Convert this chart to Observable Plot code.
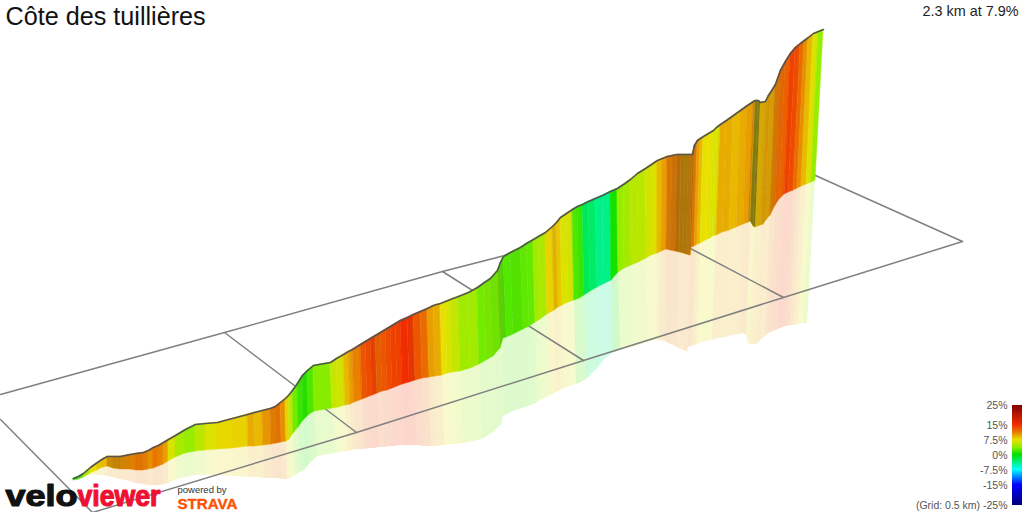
<!DOCTYPE html>
<html><head><meta charset="utf-8">
<script src="https://cdn.jsdelivr.net/npm/d3@7"></script>
<script src="https://cdn.jsdelivr.net/npm/@observablehq/plot@0.6"></script>
<style>html,body{margin:0;padding:0;background:#fff}svg{display:block}</style>
</head><body><div id="chart"></div>
<script>
const titleText = "Côte des tuillières";
const summaryText = "2.3 km at 7.9%";
const legendTicks = [25, 15, 7.5, 0, -7.5, -15, -25];
const legendLabels = ["25%", "15%", "7.5%", "0%", "-7.5%", "-15%", "(Grid: 0.5 km) -25%"];
const gradeStops = [-25, -15, -7.5, 0, 3.75, 7.5, 9.5, 11, 15, 25];
const gradeColors = ["#00007f", "#0000ff", "#00ffff", "#00e000", "#90ee00", "#e8e000", "#e8ac00", "#e88000", "#f02c00", "#7f0000"];

// ribbon ridge (top), ribbon foot (base) and the bottom of its reflection, read station by station
const topX = [73,78,83,90,97,100,103,107,113,120, 130,136,143,148,153,158,163,168,175,180, 185,195,205,217,232,247,254,262,270,275, 280,285,288,292,297,302,307,313,330,336, 343,348,352,360,365,370,375,380,385,390, 395,400,407,413,420,427,433,440,445,450, 458,468,477,484,490,497,500,503,510,520, 526,533,538,545,552,556,560,566,572,577, 582,588,595,602,610,617,623,630,637,645, 651,657,662,667,672,677,681,685,688,692, 694,697,700,703,708,713,716,720,726,733, 740,747,753,755,758,760,765,768,770,775, 780,785,790,795,800,804,808,813,818,823];
const topY = [478,476,473,467,462,460,458,456,456,456, 454,453,452,450,447,445,442,439,435,432, 429,424,423,422,418,414,412,410,408,406, 402,398,395,390,383,375,370,365,362,358, 354,351,349,344,341,338,335,332,329,326, 323,320,317,314,311,308,305,303,301,299, 296,292,287,282,278,270,262,256,252,247, 243,239,236,232,226,222,217,213,209,206, 204,201,198,195,191,188,184,179,173,168, 164,160,158,156,155,154,154,154,154,154, 145,140,138,136,133,130,127,124,120,115, 110,105,101,100,100,102,101,95,92,84, 70,61,53,47,43,40,37,33,31,29];
const baseX = [73,78,83,90,97,100,103,107,113,120, 130,136,143,148,153,158,163,168,175,180, 185,195,205,217,232,248,255,263,271,276, 281,286,289,293,298,303,308,314,332,338, 345,350,354,362,367,372,377,382,387,392, 397,402,409,415,422,429,435,442,447,452, 460,470,479,486,493,500,503,506,513,523, 529,535,540,547,554,558,562,568,574,579, 584,590,597,603,611,618,624,631,638,646, 651,657,661,666,670,675,679,683,686,690, 691,694,697,700,705,710,712,716,722,729, 736,743,748,750,753,755,760,763,765,770, 775,779,784,788,793,797,801,806,811,815];
const baseY = [480,479,477,473,470,468,467,466,468,469, 469,470,470,469,468,466,464,461,457,455, 453,451,450,449,448,446,446,445,444,443, 442,441,439,433,427,420,415,411,408,407, 405,404,402,399,397,395,393,391,390,388, 386,384,382,380,378,377,376,375,373,372, 371,368,364,360,356,348,338,337,334,329, 326,322,319,314,310,307,305,302,300,298, 295,291,287,284,280,272,268,265,262,258, 255,253,251,249,250,251,252,253,254,255, 247,246,244,243,240,238,236,235,232,230, 227,224,222,221,226,227,225,224,221,215, 205,199,194,192,190,188,186,184,182,180];
const reflX = [73,78,83,90,97,100,103,107,113,120, 130,136,143,148,153,158,163,168,175,180, 185,195,205,217,233,249,256,264,272,277, 282,287,290,295,300,304,310,317,335,341, 347,352,356,364,369,374,379,384,389,394, 399,404,411,417,424,431,437,444,449,455, 463,473,482,487,493,502,503,507,515,525, 531,537,542,549,556,560,564,570,576,581, 586,592,599,604,612,620,626,632,639,647, 651,657,660,665,668,673,677,681,684,687, 688,691,694,697,701,706,708,712,718,725, 732,739,743,746,748,750,755,758,760,765, 768,773,778,782,786,790,794,798,803,807];
const reflY = [480,479,478,475,475,475,475,476,477,479, 481,483,484,485,485,485,484,483,480,478, 477,475,475,475,476,477,477,478,478,478, 479,479,478,475,472,470,463,456,453,452, 451,450,449,449,448,448,447,447,446,446, 445,445,445,445,446,446,446,445,444,444, 443,441,439,436,432,423,416,414,410,407, 405,402,399,396,392,390,388,386,384,382, 379,373,366,359,353,350,348,347,345,342, 341,340,340,341,343,345,347,349,350,352, 347,346,345,344,342,341,340,340,338,337, 335,334,333,335,343,344,344,343,340,336, 333,331,329,327,326,325,325,324,323,323];
const gradePct = [1,2,5,7.5,8.5,8.8,9,10,10,10.5, 10.8,11.5,11,10.5,11.5,11,10,7,5,4.6, 4,5.5,7,7.8,8,9.5,9,10.3,11,11.5, 10.5,8,6,3,1.5,1,2,3.5,6,6.5, 9,10,11,13,13.5,14,12.5,13,13.5,14, 14,15,14.5,13,12,10,9.5,7.5,7,6, 4.5,4.5,3,3.2,3,3,2.2,2.2,2.2,2.5, 2.6,4.5,4.8,8,9,8.5,7,6.5,2,1.5, -2.5,-3,-4,-4,0.5,4,4.5,5.5,5.5,6.5, 7,9,10,11,11,11,10,10,10.5,10, 11.5,10,9,7.5,7.5,6.8,7,9.5,9.5,9, 9.5,10,10.5,8,8,9,9.5,10,9.5,11, 12,12.5,14,13.5,12,10.5,9,7,4,4];
const shading = [0,0,0,0,0,0,0,.15,.2,.1, .05,.05,.03,0,0,0,0,0,0,0, 0,0,0,0,0,0,0,0,.05,.05, 0,0,0,0,0,.03,0,0,0,0, 0,0,0,0,0,.04,.04,0,0,0, 0,0,.04,0,0,0,0,0,0,0, 0,0,0,.03,.04,.15,.1,0,.03,0, 0,0,0,0,.05,0,0,0,0,0, 0,0,0,0,0,0,0,0,0,0, 0,0,0,.1,.15,.25,.3,.3,.25,.3, .05,0,0,0,0,0,0,0,0,0, 0,0,.15,.5,.5,.1,.1,.1,.1,.1, .05,0,0,0,0,0,0,0,0,0];

// floor grid: outline and 0.5 km cross lines
const gridId = [0,0,0,0, 1,1, 2,2,2,2,2, 3,3, 4,4, 5,5, 6,6];
const gridX = [0,224,442,815, 815,962, 962,783,583,356,92, 0,92, 224,356, 442,583, 650,783];
const gridY = [394,332,271,175, 175,241, 241,297,360,432,512, 419,512, 332,432, 271,360, 227,297];

// strips: each joins one station to the next
const strips = d3.range(topX.length - 1).flatMap(i => [i, i + 1].map(j => ({
  id: i, grade: gradePct[i], shade: shading[i],
  tx: topX[j], ty: topY[j], bx: baseX[j], by: baseY[j], rx: reflX[j], ry: reflY[j]
})));
const ridge = topX.map((x, i) => ({x, y: topY[i]}));
const grid = gridX.map((x, i) => ({x, y: gridY[i], id: gridId[i]}));
const legendY = g => 455 - 2 * g;
const legendRamp = d3.range(-25, 25, 0.5);
const legendRows = legendTicks.map((g, i) => ({g, label: legendLabels[i]}));

const chart = Plot.plot({
  width: 1024, height: 512,
  marginTop: 0, marginRight: 0, marginBottom: 0, marginLeft: 0,
  x: {domain: [0, 1024], range: [0, 1024], axis: null},
  y: {domain: [0, 512], range: [0, 512], axis: null},
  color: {type: "linear", domain: gradeStops, range: gradeColors},
  opacity: {type: "identity"},
  style: {background: "#fff", fontFamily: "'Liberation Sans', Arial, sans-serif"},
  marks: [
    Plot.area(strips, {x1: "bx", y1: "by", x2: "rx", y2: "ry", z: "id", fill: "grade", fillOpacity: 0.2, curve: "linear"}),
    Plot.line(grid, {x: "x", y: "y", z: "id", stroke: "#808080", strokeWidth: 1.5, curve: "linear"}),
    Plot.area(strips, {x1: "tx", y1: "ty", x2: "bx", y2: "by", z: "id", fill: "grade", stroke: "grade", strokeWidth: 0.5, curve: "linear"}),
    Plot.area(strips.filter(d => d.shade > 0), {x1: "tx", y1: "ty", x2: "bx", y2: "by", z: "id", fill: "#222", fillOpacity: "shade", curve: "linear"}),
    Plot.line(ridge, {x: "x", y: "y", stroke: "#555", strokeWidth: 1.6, curve: "linear"}),

    // legend colour bar and its labels
    Plot.rect(legendRamp, {x1: () => 1012, x2: () => 1022, y1: g => legendY(g + 0.5), y2: g => legendY(g), fill: g => g, inset: 0}),
    Plot.text(legendRows, {x: () => 1007, y: d => legendY(d.g), text: "label", textAnchor: "end", fontSize: 10.5, fill: "#555"}),

    // heading and summary
    Plot.text([titleText], {frameAnchor: "top-left", dx: 5, dy: 7, fontSize: 25.2, fill: "#111"}),
    Plot.text([summaryText], {frameAnchor: "top-right", dx: -6, dy: 5, fontSize: 14.4, fill: "#222"}),

    // brand marks
    Plot.text(["velo"], {frameAnchor: "bottom-left", dx: 5, dy: -6.5, fontSize: 29, fontWeight: "bold", fill: "#111", stroke: "#111", strokeWidth: 1.2}),
    Plot.text(["viewer"], {frameAnchor: "bottom-left", dx: 77, dy: -6.5, fontSize: 29, fontWeight: "bold", fill: "#ee1133", stroke: "#ee1133", strokeWidth: 1.2}),
    Plot.text(["powered by"], {frameAnchor: "bottom-left", dx: 177, dy: -20, fontSize: 9.5, fill: "#333"}),
    Plot.text(["STRAVA"], {frameAnchor: "bottom-left", dx: 177, dy: -3.5, fontSize: 15.5, fontWeight: "bold", fill: "#fc5200", stroke: "#fc5200", strokeWidth: 0.4})
  ]
});
const brandWidths = new Map([["velo", 72], ["viewer", 83], ["STRAVA", 60]]);
d3.select(chart).selectAll("text").each(function () {
  const w = brandWidths.get(this.textContent);
  if (w) d3.select(this).attr("textLength", w).attr("lengthAdjust", "spacingAndGlyphs");
});
document.getElementById("chart").appendChild(chart);
</script></body></html>
